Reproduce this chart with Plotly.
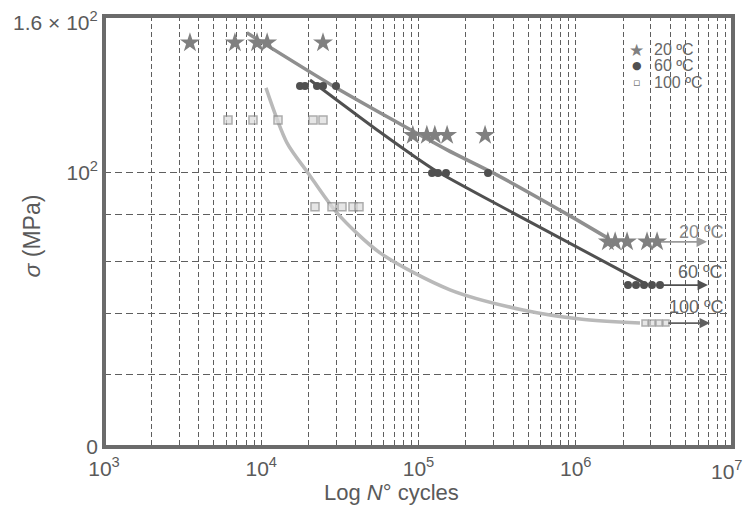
import numpy as np
import plotly.graph_objects as go

# ---- data ----
# 20 ºC (stars)
n20 = [3520, 6800, 9400, 10900, 24700, 92000, 113000, 127000, 152000, 265000,
       1.60e6, 1.78e6, 2.12e6, 2.84e6, 3.29e6]
s20 = [139]*5 + [110]*5 + [84]*5
curve20_n = [8100, 28600, 152000, 298000, 919000, 1.6e6]
curve20_s = [142.5, 124.6, 106.0, 100.0, 89.7, 84.8]

# 60 ºC (dots)
n60 = [17640, 18970, 22620, 24700, 29880, 121900, 133000, 149600, 276700,
       2.149e6, 2.416e6, 2.716e6, 3.053e6, 3.434e6]
s60 = [124.6]*5 + [100]*4 + [75.3]*5
curve60_n = [20420, 56900, 123700, 399000, 2.88e6]
curve60_s = [126.5, 110.9, 101.0, 90.4, 75.3]

# 100 ºC (squares)
n100 = [6146, 8860, 12780, 21340, 24700, 21970, 28180, 32620, 38330, 41840,
        2.757e6, 3.053e6, 3.384e6, 3.749e6]
s100 = [114.3]*5 + [91.8]*5 + [68.4]*4
curve100_n = [10716, 14580, 19830, 30320, 56900, 158600, 461800, 1.064e6, 2.562e6]
curve100_s = [124.0, 107.9, 100.0, 90.4, 81.7, 74.4, 70.7, 69.1, 68.4]

# run-out arrows (start N, end N, stress) and labels
arrow_start = [3.43e6, 3.43e6, 3.80e6]
arrow_end = [6.83e6, 6.93e6, 7.14e6]
arrow_s = [84.0, 75.3, 68.4]
arrow_labels = ["20 ºC", "60 ºC", "100 ºC"]
label_n = [6.3e6, 6.17e6, 5.9e6]
label_s = [86.1, 77.8, 71.3]

legend_names = ["20 ºC", "60 ºC", "100 ºC"]

x_decades = [3, 4, 5, 6, 7]
y_bottom, y_top = 50.0, 148.7
y_grid = [60, 70, 80, 90, 100]

# ---- figure ----
C20, C20L = "#808080", "#8f8f8f"
C60 = "#505050"
C100L = "#b9b9b9"
TXT = "#5a5a5a"
GRID = "#5e5e5e"
FONT = "Liberation Sans, Arial"
TICK = 21

fig = go.Figure()
fig.add_trace(go.Scatter(x=curve20_n, y=curve20_s, mode="lines",
                         line=dict(color=C20L, width=3.5, shape="spline", smoothing=0.6),
                         showlegend=False))
fig.add_trace(go.Scatter(x=curve60_n, y=curve60_s, mode="lines",
                         line=dict(color=C60, width=3, shape="spline", smoothing=0.6),
                         showlegend=False))
fig.add_trace(go.Scatter(x=curve100_n, y=curve100_s, mode="lines",
                         line=dict(color=C100L, width=3.5, shape="spline", smoothing=0.8),
                         showlegend=False))
fig.add_trace(go.Scatter(x=n20, y=s20, mode="markers",
                         marker=dict(symbol="star", size=15, color=C20, line=dict(width=0)),
                         showlegend=False))
fig.add_trace(go.Scatter(x=n60, y=s60, mode="markers",
                         marker=dict(symbol="circle", size=8, color=C60, line=dict(width=0)),
                         showlegend=False))
fig.add_trace(go.Scatter(x=n100, y=s100, mode="markers",
                         marker=dict(symbol="square", size=[8]*10 + [6]*4, color="#dcdcdc",
                                     line=dict(color="#8a8a8a", width=1.5)),
                         showlegend=False))

arrow_colors = ["#9a9a9a", C60, "#606060"]
label_colors = ["#8a8a8a", "#666666", "#666666"]
for a0, a1, s, col in zip(arrow_start, arrow_end, arrow_s, arrow_colors):
    fig.add_annotation(x=np.log10(a1), y=np.log10(s), ax=np.log10(a0), ay=np.log10(s),
                       xref="x", yref="y", axref="x", ayref="y", text="",
                       showarrow=True, arrowhead=2, arrowsize=1.3, arrowwidth=1.6,
                       arrowcolor=col)
for t, ln, ls, col in zip(arrow_labels, label_n, label_s, label_colors):
    fig.add_annotation(x=np.log10(ln), y=np.log10(ls), xref="x", yref="y", text=t,
                       xanchor="center", yanchor="middle",
                       showarrow=False, font=dict(size=18, color=col, family=FONT))

# legend box (white background over gridlines)
fig.add_shape(type="rect", xref="paper", yref="paper", x0=0.78, x1=0.975, y0=0.82, y1=0.955,
              fillcolor="white", line=dict(width=0), layer="between")
leg_sym = ["★", "●", "▫"]
leg_size = [17, 11, 11]
leg_col = [C20, C60, "#777777"]
leg_y = [0.922, 0.885, 0.846]
for sym, sz, col, yy, name in zip(leg_sym, leg_size, leg_col, leg_y, legend_names):
    fig.add_annotation(x=0.847, y=yy, xref="paper", yref="paper", text=sym, showarrow=False,
                       xanchor="center", yanchor="middle",
                       font=dict(size=sz, color=col, family="DejaVu Sans"))
    fig.add_annotation(x=0.872, y=yy, xref="paper", yref="paper", text=name, showarrow=False,
                       xanchor="left", yanchor="middle",
                       font=dict(size=16, color="#666666", family=FONT))

# border
fig.add_shape(type="rect", xref="paper", yref="paper", x0=0, x1=1, y0=0, y1=1,
              line=dict(color="#6b6b6b", width=4), layer="above")

# ticks / grid
xtickvals, xticktext = [], []
for d in x_decades[:-1]:
    for m in range(1, 10):
        xtickvals.append(m * 10.0**d)
        xticktext.append(f"10<sup>{d}</sup>" if m == 1 else "")
xtickvals.append(10.0**x_decades[-1])
xticktext.append("")

ytickvals = [y_bottom] + y_grid + [y_top]
yticktext = ["0", "", "", "", "", "10<sup>2</sup>", ""]

# labels at the plot edges (kept as annotations so they are not clipped)
fig.add_annotation(x=1, y=0, xref="paper", yref="paper", text=f"10<sup>{x_decades[-1]}</sup>",
                   xanchor="right", yanchor="top", xshift=12, yshift=-8, showarrow=False,
                   font=dict(size=TICK, color=TXT, family=FONT))
fig.add_annotation(x=0, y=1, xref="paper", yref="paper", text="1.6 × 10<sup>2</sup>",
                   xanchor="right", yanchor="middle", xshift=-4, yshift=-5, showarrow=False,
                   font=dict(size=TICK, color=TXT, family=FONT))
# axis titles
fig.add_annotation(x=(391 - 104) / 629, y=-0.105, xref="paper", yref="paper",
                   text="Log <i>N</i>° cycles", xanchor="center", yanchor="middle",
                   showarrow=False, font=dict(size=22, color=TXT, family=FONT))
fig.add_annotation(x=-0.115, y=0.49, xref="paper", yref="paper", text="<i>σ</i> (MPa)",
                   textangle=-90, xanchor="center", yanchor="middle",
                   showarrow=False, font=dict(size=23, color=TXT, family=FONT))

fig.update_xaxes(type="log", range=[x_decades[0], x_decades[-1]], automargin=False,
                 tickmode="array", tickvals=xtickvals, ticktext=xticktext,
                 showgrid=True, gridcolor=GRID, gridwidth=1.1, griddash="5px,3px",
                 zeroline=False, showline=False, ticks="", ticklabelstandoff=7,
                 tickfont=dict(size=TICK, color=TXT, family=FONT))
fig.update_yaxes(type="log", range=[np.log10(y_bottom), np.log10(y_top)], automargin=False,
                 tickmode="array", tickvals=ytickvals, ticktext=yticktext,
                 showgrid=True, gridcolor=GRID, gridwidth=1.1, griddash="7px,4px",
                 zeroline=False, showline=False, ticks="", ticklabelstandoff=5,
                 tickfont=dict(size=TICK, color=TXT, family=FONT))

fig.update_layout(width=744, height=506, margin=dict(l=104, r=11, t=16, b=59),
                  plot_bgcolor="white", paper_bgcolor="white", showlegend=False)

fig.write_html("out.html")
